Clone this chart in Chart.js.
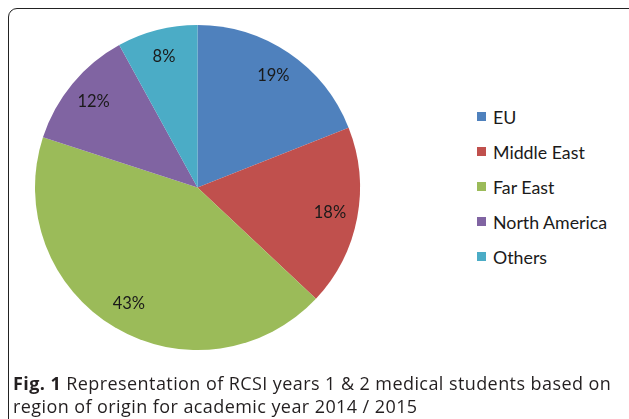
<!DOCTYPE html>
<html>
<head>
<meta charset="utf-8">
<script src="https://cdn.jsdelivr.net/npm/chart.js@4/dist/chart.umd.min.js"></script>
<style>
  body { margin: 0; width: 629px; height: 419px; background: #fff; overflow: hidden; position: relative; }
  #frame {
    position: absolute; left: 8px; top: 8px; width: 640px; height: 440px;
    border: 1.6px solid #222; border-radius: 9px; box-sizing: border-box;
  }
  #chartWrap { position: absolute; left: 0; top: 0; width: 395px; height: 375px; }
  #legend { position: absolute; left: 477px; top: 99px; font-family: Lato, sans-serif; font-size: 17.8px; color: #1a1a1a; }
  #legend .item { display: flex; align-items: center; height: 35px; }
  #legend .box { width: 9px; height: 9px; margin-right: 7px; }
  #caption {
    position: absolute; left: 13px; top: 372px; width: 640px; white-space: nowrap;
    font-family: "Open Sans", sans-serif; font-size: 18px; letter-spacing: 0.42px; line-height: 23px; color: #231f20;
  }
  #caption b { font-weight: bold; }
</style>
</head>
<body>
<div id="frame"></div>
<div id="chartWrap"><canvas id="pieChart"></canvas></div>
<div id="legend"></div>
<div id="caption"><b>Fig. 1</b> Representation of RCSI years 1 &amp; 2 medical students based on<br>region of origin for academic year 2014 / 2015</div>
<script>
// region shares (%)
const regions = ["EU", "Middle East", "Far East", "North America", "Others"];
const shares = [19, 18, 43, 12, 8];
const colors = ["#4F81BD", "#C0504D", "#9BBB59", "#8064A2", "#4BACC6"];

// draws the percentage inside each slice
const sliceLabels = {
  id: "sliceLabels",
  afterDatasetsDraw(chart) {
    const ctx = chart.ctx;
    const meta = chart.getDatasetMeta(0);
    ctx.save();
    ctx.font = "16.5px Lato, sans-serif";
    ctx.fillStyle = "#1a1a1a";
    ctx.textAlign = "center";
    ctx.textBaseline = "middle";
    meta.data.forEach((arc, i) => {
      const mid = (arc.startAngle + arc.endAngle) / 2;
      const r = arc.outerRadius * 0.83;
      ctx.fillText(shares[i] + "%", arc.x + Math.cos(mid) * r, arc.y + Math.sin(mid) * r);
    });
    ctx.restore();
  }
};

// html legend built from the chart's own legend items
const htmlLegend = {
  id: "htmlLegend",
  afterUpdate(chart) {
    const box = document.getElementById("legend");
    box.innerHTML = "";
    const items = chart.options.plugins.legend.labels.generateLabels(chart);
    items.forEach(item => {
      const row = document.createElement("div");
      row.className = "item";
      const sw = document.createElement("span");
      sw.className = "box";
      sw.style.background = item.fillStyle;
      const txt = document.createElement("span");
      txt.textContent = item.text;
      row.appendChild(sw);
      row.appendChild(txt);
      box.appendChild(row);
    });
  }
};

const ctx = document.getElementById("pieChart").getContext("2d");
new Chart(ctx, {
  type: "pie",
  data: {
    labels: regions,
    datasets: [{
      data: shares,
      backgroundColor: colors,
      borderWidth: 0
    }]
  },
  options: {
    responsive: true,
    maintainAspectRatio: false,
    animation: false,
    layout: { padding: 25 },
    plugins: {
      legend: { display: false },
      tooltip: { enabled: false }
    }
  },
  plugins: [sliceLabels, htmlLegend]
});
</script>
</body>
</html>
